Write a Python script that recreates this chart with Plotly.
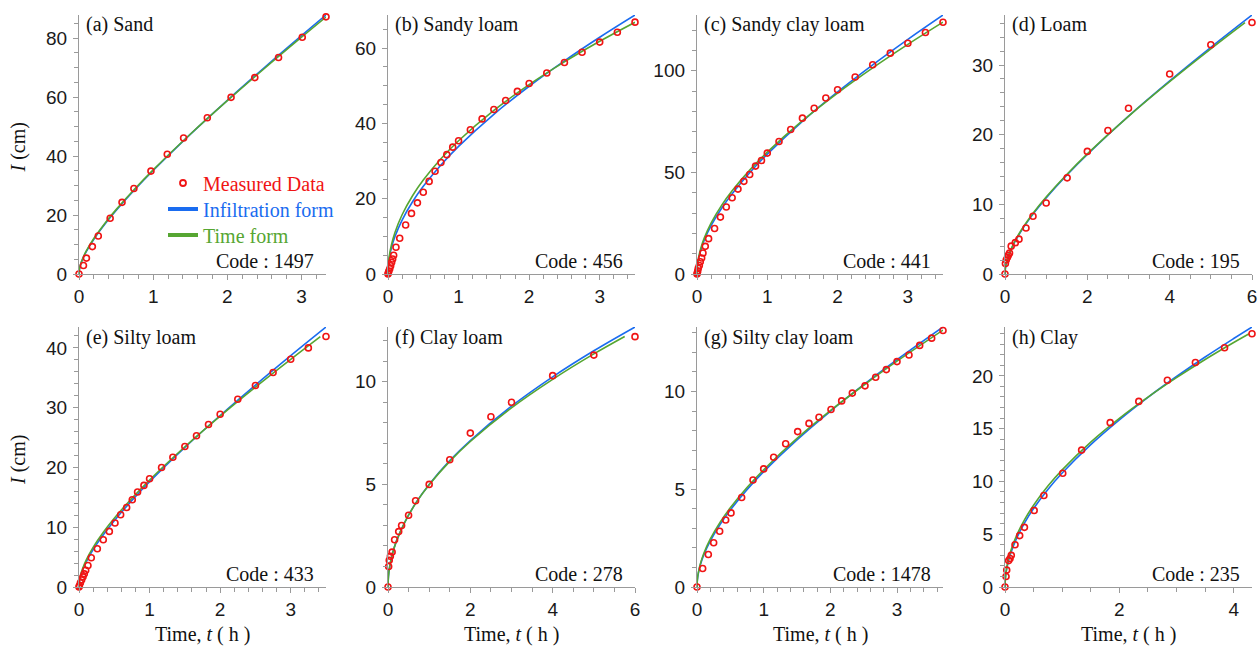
import plotly.graph_objects as go

# ---------------- measured cumulative infiltration I (cm) vs time t (h) ----------------
A_T = [0, 0.06, 0.10, 0.18, 0.26, 0.42, 0.58, 0.74, 0.97, 1.19, 1.41, 1.73, 2.05, 2.37, 2.69, 3.01, 3.33]
A_I = [0, 2.9, 5.4, 9.3, 12.9, 18.9, 24.3, 29.0, 34.9, 40.6, 46.1, 53.0, 59.9, 66.6, 73.4, 80.3, 87.2]

B_T = [0, 0.005, 0.012, 0.025, 0.038, 0.052, 0.066, 0.08, 0.113, 0.166, 0.25, 0.333, 0.417, 0.5, 0.583,
       0.667, 0.75, 0.833, 0.917, 1.0, 1.167, 1.333, 1.5, 1.667, 1.833, 2.0, 2.25, 2.5, 2.75, 3.0, 3.25, 3.5]
B_I = [0, 0.3, 0.8, 1.4, 2.2, 3.1, 4.0, 5.0, 7.1, 9.5, 13.0, 16.1, 18.9, 21.7, 24.6,
       27.3, 29.6, 31.7, 33.7, 35.4, 38.3, 41.2, 43.7, 46.1, 48.5, 50.6, 53.4, 56.2, 58.9, 61.6, 64.2, 66.9]

C_T = [0, 0.005, 0.01, 0.018, 0.033, 0.047, 0.066, 0.085, 0.118, 0.165, 0.25, 0.333, 0.417, 0.5, 0.583,
       0.667, 0.75, 0.833, 0.917, 1.0, 1.167, 1.333, 1.5, 1.667, 1.833, 2.0, 2.25, 2.5, 2.75, 3.0, 3.25, 3.5]
C_I = [0, 0.6, 1.5, 2.8, 4.2, 6.0, 7.9, 10.3, 13.6, 17.4, 22.4, 28.0, 33.0, 37.5, 41.8,
       45.6, 49.0, 53.1, 55.9, 59.5, 65.2, 71.1, 76.7, 81.6, 86.6, 90.7, 97.0, 103.0, 108.7, 113.6, 118.9, 123.9]

D_T = [0, 0.01, 0.03, 0.06, 0.08, 0.11, 0.15, 0.25, 0.34, 0.51, 0.68, 1.0, 1.51, 2.0, 2.5, 3.0, 4.0, 5.0, 6.0]
D_I = [0, 1.5, 2.0, 2.4, 2.7, 3.0, 4.0, 4.5, 5.0, 6.6, 8.3, 10.2, 13.8, 17.6, 20.6, 23.8, 28.7, 32.9, 36.1]

E_T = [0, 0.005, 0.02, 0.038, 0.057, 0.075, 0.095, 0.127, 0.174, 0.26, 0.344, 0.43, 0.51, 0.59, 0.675,
       0.755, 0.83, 0.92, 1.0, 1.17, 1.33, 1.5, 1.665, 1.835, 2.0, 2.25, 2.5, 2.75, 3.0, 3.25, 3.5]
E_I = [0, 0.2, 0.7, 1.2, 1.7, 2.2, 2.8, 3.6, 4.9, 6.4, 7.9, 9.3, 10.7, 12.1, 13.3,
       14.6, 15.9, 17.0, 18.1, 20.0, 21.7, 23.5, 25.3, 27.2, 28.9, 31.4, 33.7, 35.9, 38.1, 40.0, 41.9]

F_T = [0, 0.016, 0.03, 0.057, 0.1, 0.16, 0.26, 0.33, 0.5, 0.67, 1.0, 1.5, 2.0, 2.5, 3.0, 4.0, 5.0, 6.0]
F_I = [0, 1.0, 1.3, 1.5, 1.7, 2.3, 2.7, 3.0, 3.5, 4.2, 5.0, 6.2, 7.5, 8.3, 9.0, 10.3, 11.3, 12.2]

G_T = [0, 0.085, 0.17, 0.25, 0.34, 0.43, 0.51, 0.67, 0.84, 1.0, 1.15, 1.33, 1.51, 1.68, 1.83, 2.01,
       2.17, 2.33, 2.52, 2.68, 2.84, 3.0, 3.18, 3.34, 3.52, 3.69]
G_I = [0, 0.95, 1.66, 2.26, 2.85, 3.43, 3.79, 4.58, 5.47, 6.04, 6.64, 7.33, 7.95, 8.37, 8.68, 9.08,
       9.52, 9.92, 10.29, 10.73, 11.12, 11.53, 11.87, 12.36, 12.73, 13.12]

H_T = [0, 0.018, 0.03, 0.064, 0.088, 0.11, 0.175, 0.257, 0.34, 0.51, 0.68, 1.01, 1.34, 1.84, 2.34, 2.84,
       3.33, 3.84, 4.32]
H_I = [0, 1.0, 1.6, 2.5, 2.7, 3.0, 4.0, 4.87, 5.65, 7.25, 8.67, 10.77, 12.97, 15.57, 17.58, 19.59,
       21.26, 22.67, 23.99]

# ---------------- fitted curves: infiltration form (blue) and time form (green) ----------------
A_FIT_T = [0, 0.005, 0.02, 0.05, 0.1, 0.2, 0.35, 0.5, 0.75, 1.0, 1.5, 2.0, 2.5, 3.0, 3.33]
A_INF = [0, 1.44, 3.05, 5.11, 7.68, 11.79, 16.95, 21.55, 28.56, 35.10, 47.34, 58.89, 70.02, 80.83, 87.83]
A_TIME_T = A_FIT_T
A_TIME = [0, 1.50, 3.16, 5.27, 7.90, 12.05, 17.24, 21.83, 28.82, 35.30, 47.39, 58.77, 69.69, 80.29, 87.14]

B_FIT_T = [0, 0.005, 0.02, 0.05, 0.1, 0.2, 0.35, 0.5, 0.75, 1.0, 1.5, 2.0, 2.5, 3.0, 3.5]
B_INF = [0, 2.18, 4.39, 7.01, 10.01, 14.34, 19.26, 23.29, 28.97, 33.90, 42.43, 49.87, 56.63, 62.90, 68.80]
B_TIME_T = B_FIT_T
B_TIME = [0, 2.48, 4.96, 7.85, 11.11, 15.73, 20.85, 24.95, 30.61, 35.40, 43.46, 50.30, 56.34, 61.82, 66.88]

C_FIT_T = [0, 0.005, 0.02, 0.05, 0.1, 0.2, 0.35, 0.5, 0.75, 1.0, 1.5, 2.0, 2.5, 3.0, 3.5]
C_INF = [0, 3.48, 7.07, 11.37, 16.39, 23.79, 32.37, 39.54, 49.88, 59.00, 75.15, 89.59, 102.93, 115.51, 127.48]
C_TIME_T = C_FIT_T
C_TIME = [0, 3.77, 7.61, 12.17, 17.42, 25.05, 33.76, 40.94, 51.13, 60.00, 75.46, 89.07, 101.48, 113.05, 123.98]

D_FIT_T = [0, 0.01, 0.04, 0.1, 0.2, 0.4, 0.7, 1.0, 1.5, 2.0, 3.0, 4.0, 5.0, 6.0]
D_INF = [0, 0.83, 1.72, 2.82, 4.16, 6.23, 8.74, 10.93, 14.19, 17.17, 22.65, 27.72, 32.54, 37.18]
D_TIME_T = [0, 0.01, 0.04, 0.1, 0.2, 0.4, 0.7, 1.0, 1.5, 2.0, 3.0, 4.0, 5.0, 5.83]
D_TIME = [0, 0.86, 1.77, 2.90, 4.26, 6.35, 8.87, 11.05, 14.29, 17.24, 22.63, 27.60, 32.31, 36.07]

E_FIT_T = [0, 0.005, 0.02, 0.05, 0.1, 0.2, 0.35, 0.5, 0.75, 1.0, 1.5, 2.0, 2.5, 3.0, 3.5]
E_INF = [0, 0.82, 1.70, 2.81, 4.16, 6.27, 8.84, 11.10, 14.49, 17.60, 23.34, 28.69, 33.79, 38.71, 43.50]
E_TIME_T = [0, 0.005, 0.02, 0.05, 0.1, 0.2, 0.35, 0.5, 0.75, 1.0, 1.5, 2.0, 2.5, 3.0, 3.42]
E_TIME = [0, 0.90, 1.85, 3.03, 4.45, 6.62, 9.24, 11.50, 14.85, 17.90, 23.46, 28.59, 33.44, 38.09, 41.89]

F_FIT_T = [0, 0.01, 0.04, 0.1, 0.2, 0.4, 0.7, 1.0, 1.5, 2.0, 3.0, 4.0, 5.0, 6.0]
F_INF = [0, 0.49, 0.98, 1.56, 2.21, 3.13, 4.17, 5.00, 6.16, 7.14, 8.81, 10.24, 11.51, 12.67]
F_TIME_T = [0, 0.01, 0.04, 0.1, 0.2, 0.4, 0.7, 1.0, 1.5, 2.0, 3.0, 4.0, 5.0, 5.75]
F_TIME = [0, 0.49, 0.98, 1.56, 2.21, 3.13, 4.16, 4.98, 6.12, 7.09, 8.73, 10.12, 11.36, 12.21]

G_FIT_T = [0, 0.005, 0.02, 0.05, 0.1, 0.2, 0.35, 0.5, 0.75, 1.0, 1.5, 2.0, 2.5, 3.0, 3.69]
G_INF = [0, 0.34, 0.70, 1.13, 1.63, 2.36, 3.22, 3.94, 4.98, 5.90, 7.53, 8.99, 10.35, 11.63, 13.30]
G_TIME_T = G_FIT_T
G_TIME = [0, 0.36, 0.74, 1.18, 1.70, 2.46, 3.33, 4.05, 5.09, 6.00, 7.60, 9.02, 10.32, 11.55, 13.14]

H_FIT_T = [0, 0.005, 0.02, 0.05, 0.1, 0.2, 0.35, 0.5, 0.75, 1.0, 1.5, 2.0, 2.5, 3.0, 3.5, 4.0, 4.32]
H_INF = [0, 0.70, 1.41, 2.24, 3.20, 4.59, 6.15, 7.43, 9.24, 10.80, 13.49, 15.84, 17.97, 19.94, 21.79, 23.54, 24.63]
H_TIME_T = [0, 0.005, 0.02, 0.05, 0.1, 0.2, 0.35, 0.5, 0.75, 1.0, 1.5, 2.0, 2.5, 3.0, 3.5, 4.0, 4.27]
H_TIME = [0, 0.75, 1.51, 2.40, 3.41, 4.85, 6.45, 7.75, 9.56, 11.10, 13.73, 15.98, 17.99, 19.83, 21.55, 23.16, 23.99]

# ---------------- panel labels ----------------
TITLES = ["(a) Sand", "(b) Sandy loam", "(c) Sandy clay loam", "(d) Loam",
          "(e) Silty loam", "(f) Clay loam", "(g) Silty clay loam", "(h) Clay"]
CODES = [1497, 456, 441, 195, 433, 278, 1478, 235]
LEGEND_NAMES = ["Measured Data", "Infiltration form", "Time form"]

MEASURED = [(A_T, A_I), (B_T, B_I), (C_T, C_I), (D_T, D_I), (E_T, E_I), (F_T, F_I), (G_T, G_I), (H_T, H_I)]
INF_FORM = [(A_FIT_T, A_INF), (B_FIT_T, B_INF), (C_FIT_T, C_INF), (D_FIT_T, D_INF),
            (E_FIT_T, E_INF), (F_FIT_T, F_INF), (G_FIT_T, G_INF), (H_FIT_T, H_INF)]
TIME_FORM = [(A_TIME_T, A_TIME), (B_TIME_T, B_TIME), (C_TIME_T, C_TIME), (D_TIME_T, D_TIME),
             (E_TIME_T, E_TIME), (F_TIME_T, F_TIME), (G_TIME_T, G_TIME), (H_TIME_T, H_TIME)]

# axis settings per panel: (x max, x dtick, x minor, y max, y dtick, y minor)
AXES = [
    (3.33, 1, 0.2, 87.83, 20, 5),
    (3.5, 1, 0.2, 68.8, 20, 5),
    (3.5, 1, 0.2, 127.48, 50, 10),
    (6.0, 2, 0.5, 37.18, 10, 2),
    (3.5, 1, 0.2, 43.5, 10, 2),
    (6.0, 2, 0.5, 12.67, 5, 1),
    (3.69, 1, 0.2, 13.3, 5, 1),
    (4.32, 2, 0.5, 24.63, 5, 1),
]

W, H = 1259, 648
COL_PX = [(79, 326), (388, 635), (697, 943), (1005, 1252)]
ROW_PX = [(15, 274), (327, 587)]

RED = "#f01414"
BLUE = "#1a6cf0"
GREEN = "#56a632"
AXIS_GRAY = "#9a9a9a"
SERIF = "Liberation Serif"
SANS = "Liberation Sans"

fig = go.Figure()
layout = dict(
    width=W, height=H,
    margin=dict(l=0, r=0, t=0, b=0),
    paper_bgcolor="white", plot_bgcolor="white",
    showlegend=True,
)
annotations = []

for k in range(8):
    r, c = divmod(k, 4)
    sfx = "" if k == 0 else str(k + 1)
    xa, ya = "x" + sfx, "y" + sfx
    x0, x1 = COL_PX[c]
    y0, y1 = ROW_PX[r]
    xmax, xdt, xmn, ymax, ydt, ymn = AXES[k]

    common = dict(
        showline=True, linecolor=AXIS_GRAY, linewidth=1.3,
        ticks="outside", ticklen=5, tickwidth=1, tickcolor=AXIS_GRAY,
        showgrid=False, zeroline=False,
        tickfont=dict(family=SANS, size=19, color="#1a1a1a"),
        automargin=False,
    )
    layout["xaxis" + sfx] = dict(
        common, domain=[x0 / W, x1 / W], anchor=ya, range=[0, xmax],
        tick0=0, dtick=xdt,
        minor=dict(dtick=xmn, tick0=0, ticks="outside", ticklen=4, tickcolor=AXIS_GRAY, showgrid=False),
    )
    layout["yaxis" + sfx] = dict(
        common, domain=[1 - y1 / H, 1 - y0 / H], anchor=xa, range=[0, ymax],
        tick0=0, dtick=ydt, ticklabelstandoff=2,
        minor=dict(dtick=ymn, tick0=0, ticks="outside", ticklen=4, tickcolor=AXIS_GRAY, showgrid=False),
    )

    bt, bi = INF_FORM[k]
    gt, gi = TIME_FORM[k]
    mt, mi = MEASURED[k]
    fig.add_trace(go.Scatter(x=bt, y=bi, mode="lines", line=dict(color=BLUE, width=1.6, shape="spline"),
                             xaxis=xa, yaxis=ya, showlegend=False, hoverinfo="skip"))
    fig.add_trace(go.Scatter(x=gt, y=gi, mode="lines", line=dict(color=GREEN, width=1.6, shape="spline"),
                             xaxis=xa, yaxis=ya, showlegend=False, hoverinfo="skip"))
    fig.add_trace(go.Scatter(x=mt, y=mi, mode="markers",
                             marker=dict(symbol="circle-open", size=6, color=RED, line=dict(width=1.6, color=RED)),
                             xaxis=xa, yaxis=ya, showlegend=False, cliponaxis=False))

    annotations.append(dict(
        text=TITLES[k], xref=xa + " domain", yref=ya + " domain", x=0, y=1,
        xanchor="left", yanchor="middle", xshift=5, yshift=-10, showarrow=False,
        font=dict(family=SERIF, size=20, color="#111111"),
    ))
    annotations.append(dict(
        text=f"Code : {CODES[k]}", xref=xa + " domain", yref=ya + " domain", x=1, y=0,
        xanchor="right", yanchor="middle", xshift=-10, yshift=13, showarrow=False,
        font=dict(family=SERIF, size=20, color="#111111"),
    ))

# axis titles
for r, (y0, y1) in enumerate(ROW_PX):
    annotations.append(dict(
        text="<i>I</i> (cm)", xref="paper", yref="paper", x=18 / W, y=1 - ((y0 + y1) / 2 + 3) / H,
        xanchor="center", yanchor="middle", textangle=-90, showarrow=False,
        font=dict(family=SERIF, size=20, color="#111111"),
    ))
for c, (x0, x1) in enumerate(COL_PX):
    annotations.append(dict(
        text="Time, <i>t</i> ( h )", xref="paper", yref="paper", x=(x0 + x1) / 2 / W, y=1 - 634 / H,
        xanchor="center", yanchor="middle", showarrow=False,
        font=dict(family=SERIF, size=20, color="#111111"),
    ))

# legend entries shown inside panel (a), one legend box per row for exact spacing
LEGEND_ROWS_PX = [183, 209, 235]
legend_specs = [
    dict(mode="markers", marker=dict(symbol="circle-open", size=6, color=RED, line=dict(width=1.8, color=RED))),
    dict(mode="lines", line=dict(color=BLUE, width=4)),
    dict(mode="lines", line=dict(color=GREEN, width=4)),
]
for i, (name, color, spec) in enumerate(zip(LEGEND_NAMES, [RED, BLUE, GREEN], legend_specs)):
    lg = "legend" if i == 0 else f"legend{i + 1}"
    fig.add_trace(go.Scatter(x=[None], y=[None], name=f'<span style="color:{color}">{name}</span>',
                             legend=lg, showlegend=True, **spec))
    layout[lg] = dict(
        x=163 / W, y=1 - LEGEND_ROWS_PX[i] / H, xanchor="left", yanchor="middle",
        bgcolor="rgba(0,0,0,0)", borderwidth=0,
        font=dict(family=SERIF, size=20), itemwidth=30,
    )

layout["annotations"] = annotations
fig.update_layout(**layout)

fig.write_html("out.html")
